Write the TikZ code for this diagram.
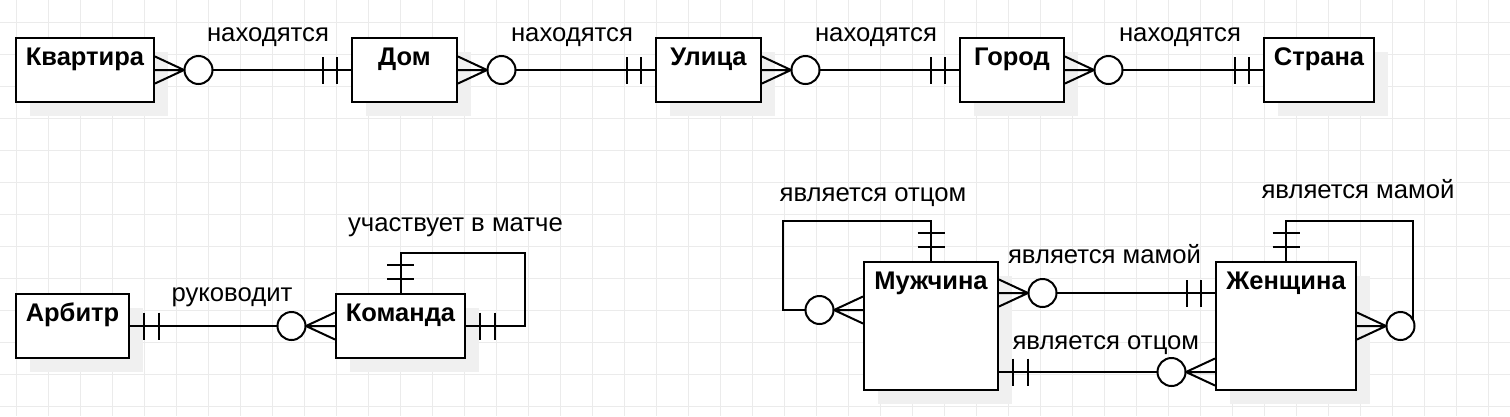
\documentclass[tikz,border=0pt]{standalone}
\usepackage{fontspec}
\setmainfont{Liberation Sans}
\usetikzlibrary{calc,shadows}
\newcommand{\entfont}{\fontsize{25.5}{30}\bfseries\selectfont}
\newcommand{\relfont}{\fontsize{25.7}{30}\selectfont}
\tikzset{
  x=1pt, y=-1pt,
  gridline/.style={draw=black!8, line width=1pt},
  conn/.style={draw=black, line width=2pt},
  ent/.style={draw=black, line width=2pt, fill=white, inner sep=0pt,
    drop shadow={shadow xshift=14pt, shadow yshift=-14pt, fill=black!6, opacity=1},
    label={[font=\entfont, anchor=base, yshift=-28.7pt, inner sep=0pt]north:#1}},
  rel/.style={font=\relfont, anchor=base, inner sep=0pt},
  pics/crow/.style={code={
    \draw[conn] (0,-13.5) -- (29,0) -- (0,13.5) (0,0) -- (29,0);
    \draw[conn, fill=white] (43.5,0) circle[radius=14pt];
  }},
  pics/bars/.style={code={
    \draw[conn] (14,-13.5) -- (14,13.5) (28.5,-13.5) -- (28.5,13.5);
  }},
}
\begin{document}
\begin{tikzpicture}
\useasboundingbox (0,0) rectangle (1510,416);
\fill[white] (0,0) rectangle (1510,416);
\foreach \i in {0,...,46} \draw[gridline] (16+32*\i,0) -- (16+32*\i,416);
\foreach \j in {0,...,12} \draw[gridline] (0,22+32*\j) -- (1510,22+32*\j);

% entities
\node[ent=Квартира, minimum width=138pt, minimum height=64pt] (kv) at (85,70) {};
\node[ent=Дом, minimum width=105pt, minimum height=64pt] (dom) at (404.5,70) {};
\node[ent=Улица, minimum width=105pt, minimum height=64pt] (ul) at (708.5,70) {};
\node[ent=Город, minimum width=104pt, minimum height=64pt] (gor) at (1012,70) {};
\node[ent=Страна, minimum width=110pt, minimum height=64pt] (str) at (1319,70) {};
\node[ent=Арбитр, minimum width=113pt, minimum height=64pt] (arb) at (72.5,326) {};
\node[ent=Команда, minimum width=129pt, minimum height=64pt] (kom) at (400.5,326) {};
\node[ent=Мужчина, minimum width=134pt, minimum height=128pt] (muz) at (931,326) {};
\node[ent=Женщина, minimum width=140pt, minimum height=128pt] (zhen) at (1286,326) {};

% row 1
\foreach \a/\b in {kv/dom, dom/ul, ul/gor, gor/str}{
  \draw[conn] (\a.east) -- (\b.west);
  \pic at (\a.east) {crow};
  \pic[rotate=180] at (\b.west) {bars};
}
\node[rel] (l1) at (268,41.3) {находятся};
\node[rel] (l2) at (572,41.3) {находятся};
\node[rel] (l3) at (876,41.3) {находятся};
\node[rel] (l4) at (1180,41.3) {находятся};

% referee / team
\draw[conn] (arb.east) -- (kom.west);
\pic at (arb.east) {bars};
\pic[rotate=180] at (kom.west) {crow};
\draw[conn] (kom.north) -- ++(0,-40) -| ($(kom.east)+(59,0)$) -- (kom.east);
\pic[rotate=90] at (kom.north) {bars};
\pic at (kom.east) {bars};
\node[rel] (l5) at (232,301.7) {руководит};
\node[rel] (l6) at (455.5,231.7) {участвует в матче};

% man / woman
\coordinate (mloop) at ($(muz.west)+(0,-16)$);
\draw[conn] (muz.north) -- ++(0,-40) -| ($(mloop)+(-80,0)$) -- (mloop);
\pic[rotate=90] at (muz.north) {bars};
\pic[rotate=180] at (mloop) {crow};

\coordinate (mm1) at ($(muz.north east)+(0,32)$);
\coordinate (mm2) at ($(zhen.north west)+(0,32)$);
\draw[conn] (mm1) -- (mm2);
\pic at (mm1) {crow};
\pic[rotate=180] at (mm2) {bars};

\coordinate (mo1) at ($(muz.north east)+(0,111)$);
\coordinate (mo2) at ($(zhen.north west)+(0,111)$);
\draw[conn] (mo1) -- (mo2);
\pic at (mo1) {bars};
\pic[rotate=180] at (mo2) {crow};

\draw[conn] (zhen.north) -- ++(0,-40) -| ($(zhen.east)+(56,0)$) -- (zhen.east);
\pic[rotate=90] at (zhen.north) {bars};
\pic at (zhen.east) {crow};

\node[rel] (l7) at (873,201) {является отцом};
\node[rel] (l8) at (1104.5,263.3) {является мамой};
\node[rel] (l9) at (1105.8,349.3) {является отцом};
\node[rel] (l10) at (1358,198.3) {является мамой};
\end{tikzpicture}
\end{document}
